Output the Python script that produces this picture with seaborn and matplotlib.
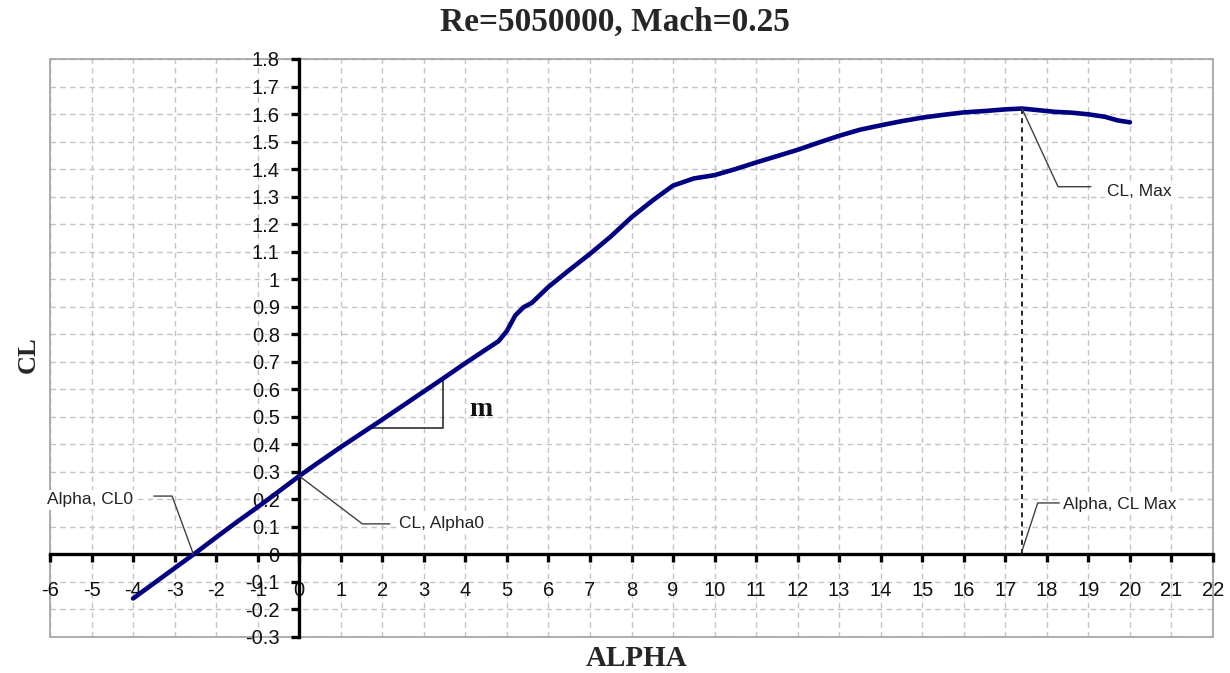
import numpy as np
import pandas as pd
import matplotlib
matplotlib.use("Agg")
import matplotlib.pyplot as plt
import seaborn as sns
from matplotlib.patches import Rectangle

# Lift curve of the airfoil
alpha = [-4, -3.5, -3, -2.5, -2, -1.5, -1, -0.5, 0, 0.5, 1, 1.5, 2, 2.5, 3, 3.5,
         4, 4.5, 4.8, 5.0, 5.2, 5.4, 5.6, 6, 6.5, 7, 7.5, 8, 8.5, 9, 9.5, 10,
         10.5, 11, 11.5, 12, 12.5, 13, 13.5, 14, 14.5, 15, 15.5, 16, 16.5, 17,
         17.4, 17.8, 18.2, 18.6, 19, 19.4, 19.7, 20]
cl = [-0.160, -0.105, -0.050, 0.005, 0.062, 0.118, 0.172, 0.228, 0.285, 0.338,
      0.390, 0.440, 0.490, 0.541, 0.592, 0.643, 0.695, 0.745, 0.775, 0.812,
      0.868, 0.898, 0.914, 0.972, 1.033, 1.092, 1.155, 1.225, 1.285, 1.340,
      1.366, 1.378, 1.400, 1.424, 1.447, 1.470, 1.496, 1.521, 1.543, 1.559,
      1.574, 1.587, 1.597, 1.606, 1.611, 1.617, 1.620, 1.614, 1.608, 1.605,
      1.599, 1.590, 1.577, 1.570]

x_ticks = list(range(-6, 23))
y_ticks = [round(v, 1) for v in np.arange(-0.3, 1.81, 0.1)]

title = "Re=5050000, Mach=0.25"
x_label = "ALPHA"
y_label = "CL"

df = pd.DataFrame({"alpha": alpha, "cl": cl})

sns.set_theme(style="white")
plt.rcParams["font.family"] = ["Liberation Sans", "DejaVu Sans"]

fig = plt.figure(figsize=(12.3, 6.73), dpi=100)
ax = fig.add_axes([50 / 1230, 1 - 637 / 673, (1213 - 50) / 1230, (637 - 59) / 673])

ax.set_xlim(-6, 22)
ax.set_ylim(-0.3, 1.8)

# dashed grid and light frame of the plotting area
for xv in x_ticks:
    ax.axvline(xv, color="#c4c4c4", lw=1, ls=(0, (4, 3)), zorder=0)
for yv in y_ticks:
    ax.axhline(yv, color="#c4c4c4", lw=1, ls=(0, (4, 3)), zorder=0)
ax.add_patch(Rectangle((0, 0), 1, 1, transform=ax.transAxes, fill=False,
                       ec="#a0a0a0", lw=1.2, zorder=0.5, clip_on=False))

sns.lineplot(data=df, x="alpha", y="cl", ax=ax, color="#000080", lw=3.3,
             zorder=4, sort=False)

# axes crossing at the origin
for side in ("top", "right"):
    ax.spines[side].set_visible(False)
ax.spines["left"].set_position(("data", 0))
ax.spines["bottom"].set_position(("data", 0))
for side in ("left", "bottom"):
    ax.spines[side].set_linewidth(2.4)
    ax.spines[side].set_color("black")
    ax.spines[side].set_zorder(3)

ax.set_xticks(x_ticks)
ax.set_yticks(y_ticks)
ax.set_xticklabels([f"{v:g}" for v in x_ticks])
ax.set_yticklabels([f"{v:g}" for v in y_ticks])
ax.tick_params(axis="x", direction="out", length=6, width=2.4, pad=13,
               labelsize=14.5, colors="black", bottom=True)
ax.tick_params(axis="y", direction="out", length=6, width=2.4, pad=8,
               labelsize=14.5, colors="black", left=True)
for lbl in ax.get_xticklabels() + ax.get_yticklabels():
    lbl.set_color("#111111")
ax.set_xlabel("")
ax.set_ylabel("")

serif = ["Liberation Serif", "DejaVu Serif"]
fig.text(615 / 1230, 1 - 22 / 673, title, ha="center", va="center", fontsize=24,
         fontweight="bold", family=serif)
fig.text(637 / 1230, 1 - 658 / 673, x_label, ha="center", va="center",
         fontsize=21, fontweight="bold", family=serif)
fig.text(28 / 1230, 1 - 355 / 673, y_label, ha="center", va="center",
         fontsize=19, fontweight="bold", family=serif, rotation=90)

# annotations of the characteristic points
a_arr = np.array(alpha)
c_arr = np.array(cl)
i_max = int(np.argmax(c_arr))
a_max, cl_max = a_arr[i_max], c_arr[i_max]
a_zero = float(np.interp(0.0, c_arr[:10], a_arr[:10]))
cl_zero = float(np.interp(0.0, a_arr, c_arr))

lead = dict(color="#404040", lw=1.0, zorder=5)
box = dict(facecolor="white", edgecolor="none", pad=1.5)
txt = dict(fontsize=12.5, color="#222222", va="center", zorder=6)

ax.plot([a_zero, -3.06, -3.5], [0, 0.212, 0.212], **lead)
ax.text(-4.0, 0.198, "Alpha, CL0", ha="right", bbox=box, clip_on=False, **txt)

ax.plot([0, 1.52, 2.18], [cl_zero, 0.111, 0.111], **lead)
ax.text(2.4, 0.112, "CL, Alpha0", ha="left", bbox=box, **txt)

ax.plot([a_max, 18.27, 19.06], [cl_max, 1.336, 1.336], **lead)
ax.text(19.45, 1.32, "CL, Max", ha="left", bbox=box, **txt)

ax.plot([a_max, 17.78, 18.3], [0.012, 0.187, 0.187], **lead)
ax.text(18.4, 0.18, "Alpha, CL Max", ha="left", bbox=box, **txt)

ax.plot([a_max, a_max], [0, cl_max], color="black", lw=1.2,
        ls=(0, (3, 2.5)), zorder=3.5)

# slope triangle
s0, s1 = 1.71, 3.45
y0 = float(np.interp(s0, a_arr, c_arr))
y1 = float(np.interp(s1, a_arr, c_arr))
ax.plot([s0, s1, s1], [y0, y0, y1], color="#303030", lw=1.2, zorder=3.5)
ax.text(4.1, 0.525, "m", ha="left", va="center", fontsize=20,
        fontweight="bold", family=serif, color="#111111")

fig.savefig("out.png", dpi=100, facecolor="white")
